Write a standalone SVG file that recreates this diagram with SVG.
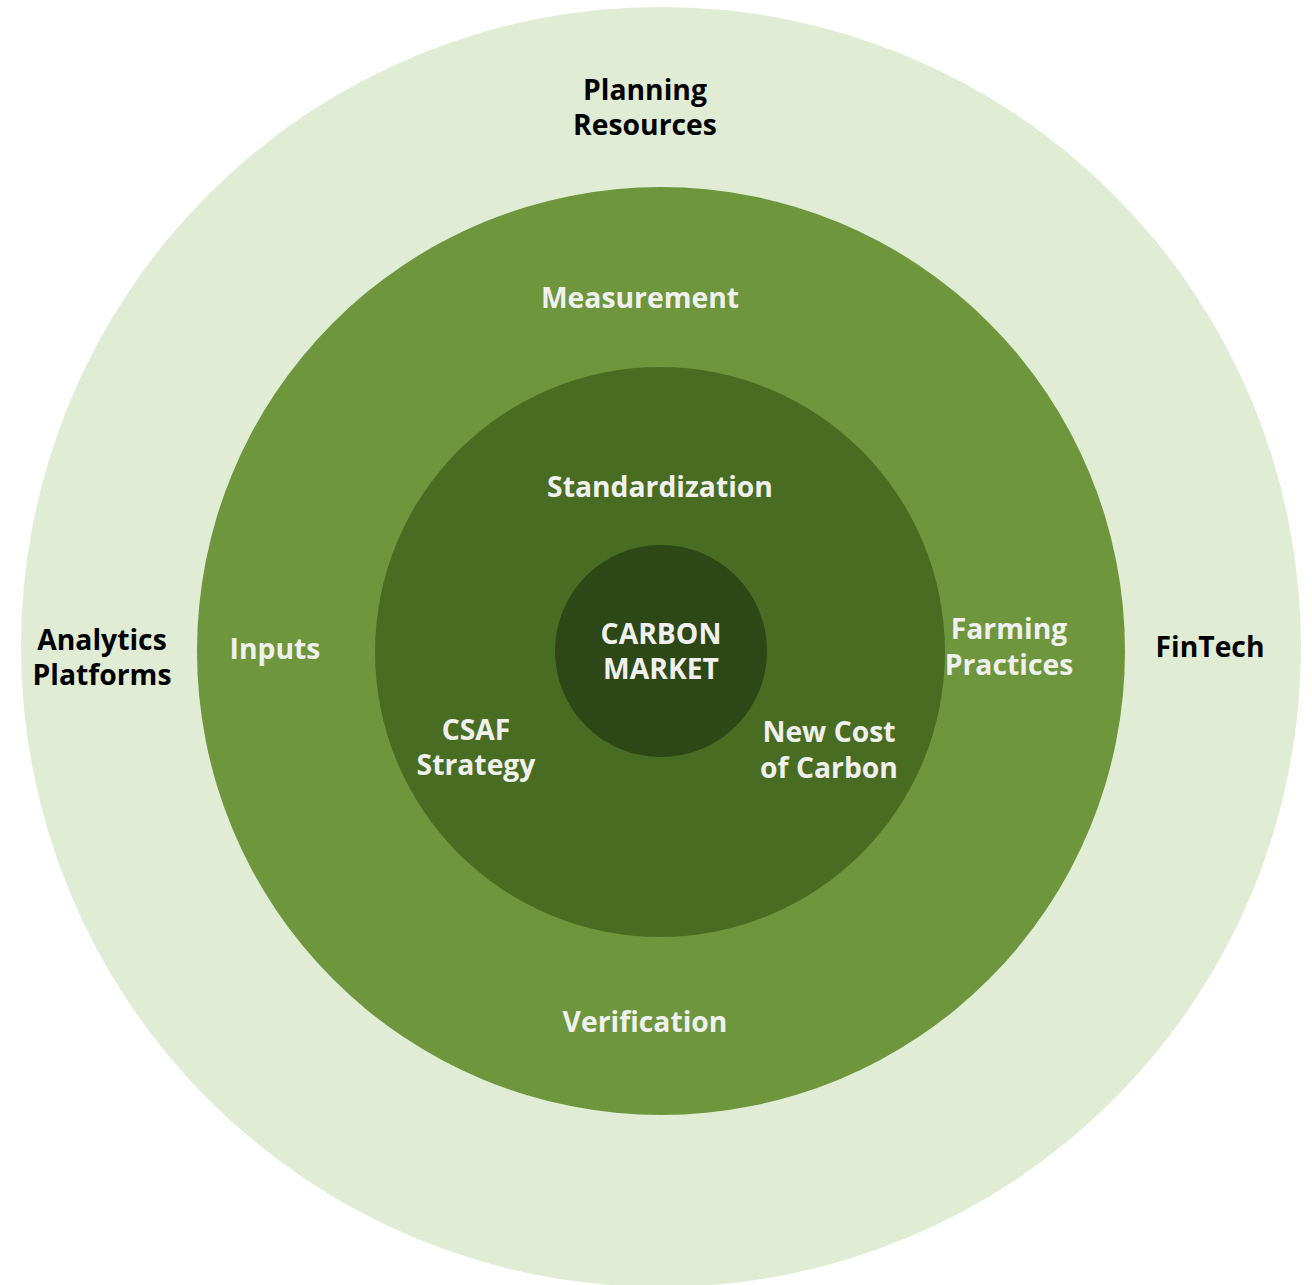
<svg xmlns="http://www.w3.org/2000/svg" width="1312" height="1285" viewBox="0 0 1312 1285">
  <style>
    .lbl { font-family: "Open Sans", "Liberation Sans", sans-serif; font-weight: 700; font-size: 28.3px; text-anchor: middle; }
    .dark { fill: #000000; }
    .light { fill: #f0f0ee; }
  </style>
  <rect width="1312" height="1285" fill="#ffffff"/>

  <!-- Rings, outermost first -->
  <g id="ring-outer">
    <circle cx="661" cy="647" r="640" fill="#e1ecd5"/>
    <text class="lbl dark" x="645" y="100">Planning</text>
    <text class="lbl dark" x="645" y="135">Resources</text>
    <text class="lbl dark" x="102" y="650">Analytics</text>
    <text class="lbl dark" x="102" y="685">Platforms</text>
    <text class="lbl dark" x="1210" y="657">FinTech</text>
  </g>

  <g id="ring-middle">
    <circle cx="661" cy="651" r="464" fill="#6e973d"/>
    <text class="lbl light" x="640" y="308">Measurement</text>
    <text class="lbl light" x="275" y="659">Inputs</text>
    <text class="lbl light" x="1009" y="639">Farming</text>
    <text class="lbl light" x="1009" y="675">Practices</text>
    <text class="lbl light" x="645" y="1032">Verification</text>
  </g>

  <g id="ring-inner">
    <circle cx="660" cy="652" r="285" fill="#496c23"/>
    <text class="lbl light" x="660" y="497">Standardization</text>
    <text class="lbl light" x="476" y="740">CSAF</text>
    <text class="lbl light" x="476" y="775">Strategy</text>
    <text class="lbl light" x="829" y="742">New Cost</text>
    <text class="lbl light" x="829" y="778">of Carbon</text>
  </g>

  <g id="core">
    <circle cx="661" cy="651" r="106" fill="#2d4716"/>
    <text class="lbl light" x="661" y="644">CARBON</text>
    <text class="lbl light" x="661" y="679">MARKET</text>
  </g>

  <g id="connectors"/>
</svg>
